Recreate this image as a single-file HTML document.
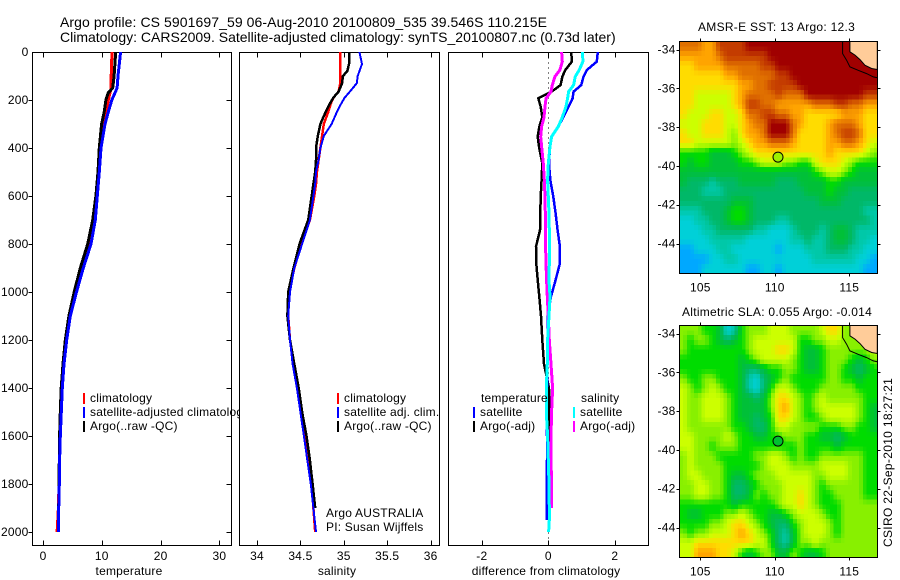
<!DOCTYPE html>
<html>
<head>
<meta charset="utf-8">
<title>Argo profile</title>
<style>
html,body{margin:0;padding:0;background:#fff;width:900px;height:580px;overflow:hidden}
svg{display:block}
text{font-family:"Liberation Sans",sans-serif;font-size:12px;fill:#000;letter-spacing:0.2px}
.title{font-size:14px;letter-spacing:0}
</style>
</head>
<body>
<svg id="chart" width="900" height="580" viewBox="0 0 900 580" xmlns="http://www.w3.org/2000/svg">
<defs>
<clipPath id="clip-sst"><rect x="679.5" y="41.5" width="198" height="232"/></clipPath>
<clipPath id="clip-sla"><rect x="679.5" y="325.5" width="198" height="232"/></clipPath>
</defs>
<text class="title" x="60" y="27" textLength="487">Argo profile: CS 5901697_59 06-Aug-2010 20100809_535 39.546S 110.215E</text>
<text class="title" x="60" y="42">Climatology: CARS2009. Satellite-adjusted climatology: synTS_20100807.nc (0.73d later)</text>
<text x="698" y="31" textLength="157">AMSR-E SST: 13 Argo: 12.3</text>
<text x="682" y="316" textLength="190">Altimetric SLA: 0.055 Argo: -0.014</text>
<text transform="translate(892,547) rotate(-90)" textLength="169">CSIRO 22-Sep-2010 18:27:21</text>
</svg>
<script>
// ---- profile data ----
const tempDepths = [0,100,150,170,200,250,300,400,500,600,700,800,900,1000,1100,1200,1300,1400,1500,1600,1700,1800,1900,2000];
const tempClim = [11.73,11.6,11.6,11.4,11.1,10.7,10.4,9.8,9.47,9.2,8.73,7.88,6.75,5.6,4.53,3.9,3.45,3.15,2.98,2.85,2.78,2.72,2.62,2.4];
const tempSat = [13.2,12.75,12.6,12.25,11.7,11.1,10.55,9.87,9.58,9.24,8.9,8.16,6.86,5.7,4.65,4.03,3.57,3.28,3.11,2.95,2.83,2.78,2.67,2.6];
const tempArgo = [12.36,12.1,11.85,11.1,10.7,10.4,9.97,9.58,9.35,9.0,8.45,7.6,6.35,5.3,4.4,3.8,3.4,3.1,2.95,2.83,2.78,2.72,2.67];
const salDepths = [0,50,80,100,130,165,190,215,250,300,350,400,450,500,550,600,700,800,900,1000,1100,1200,1300,1400,1500,1600,1700,1800,1900,2000];
const salClim = [34.96,34.96,34.96,34.96,34.96,34.94,34.88,34.85,34.82,34.77,34.75,34.73,34.71,34.69,34.68,34.66,34.61,34.51,34.43,34.37,34.36,34.38,34.43,34.47,34.51,34.55,34.60,34.63,34.65,34.67];
const salSat = [35.18,35.21,35.18,35.16,35.15,35.07,35.01,34.97,34.92,34.86,34.77,34.73,34.71,34.68,34.67,34.65,34.61,34.52,34.43,34.38,34.36,34.38,34.41,34.46,34.50,34.54,34.58,34.62,34.65,34.68];
const salArgo = [35.06,35.06,35.04,34.99,34.98,34.94,34.88,34.84,34.79,34.73,34.70,34.68,34.68,34.67,34.65,34.63,34.59,34.49,34.42,34.36,34.35,34.38,34.43,34.48,34.52,34.57,34.61,34.64,34.67];
const diffDepths = [0,40,75,103,138,165,193,228,272,311,353,394,464,533,603,672,742,811,881,950,1019,1100,1200,1300,1400,1500,1600,1700,1800,1900,1950,2000];
const diffTempSat = [1.49,1.46,1.16,1.06,.99,.76,.73,.61,.45,.30,.10,.05,.02,.06,.15,.22,.28,.35,.35,.22,.08,-.02,-.02,-.03,-.04,-.05,-.04,-.04,-.05,-.05,-.05];
const diffTempArgo = [.69,.71,.51,.42,.37,.10,-.30,-.23,-.18,-.27,-.32,-.28,-.18,-.20,-.23,-.24,-.25,-.37,-.36,-.32,-.27,-.22,-.18,-.13,.02,.03,.03,.03];
const diffSalSat = [1.03,1.04,.93,.81,.76,.61,.58,.53,.42,.30,.10,.05,0,-.02,0,.02,.03,.03,.03,.02,.05,.02,-.02,-.03,-.06,-.06,-.02,0,.02,.03,.03,.01];
const diffSalArgo = [.40,.42,.35,.20,.12,.08,-.07,-.10,-.13,-.20,-.23,-.20,-.15,-.12,-.10,-.09,-.08,-.08,-.07,-.05,-.03,0,.03,.08,.13,.10,.08,.08,.10,.10];

// ---- tick labels ----
const depthTicks = [0,200,400,600,800,1000,1200,1400,1600,1800,2000];
const tempTicks = [0,10,20,30];
const salTicks = [34,34.5,35,35.5,36];
const diffTicks = [-2,0,2];
const lonTicks = [105,110,115];
const latTicks = [-34,-36,-38,-40,-42,-44];

// ---- map data: colour-level per half-degree cell, north to south ----
const sstRows = [
[10,10,10,9,9,11,11,11,11,12,12,12,12,12,12,12,12,12,12,12,12,12,12,12,12,12,12],
[9,9,9,9,9,10,11,11,11,11,11,11,12,12,12,12,12,12,12,12,12,12,12,12,12,12,12],
[8,8,9,9,9,9,10,10,10,10,10,11,11,12,12,12,12,12,12,12,12,12,12,12,12,12,12],
[8,8,8,8,8,8,9,9,10,10,10,10,10,11,11,12,12,12,12,12,12,12,12,12,12,12,12],
[8,8,8,8,8,8,8,8,9,9,10,10,11,11,11,11,12,12,12,12,12,12,12,12,12,12,12],
[8,8,7,7,7,7,7,8,9,10,10,10,10,11,10,10,10,12,12,12,12,12,12,12,12,11,11],
[8,8,7,7,7,7,7,8,9,11,11,10,10,9,9,9,9,9,10,10,10,11,11,10,10,9,9],
[8,7,7,7,8,8,7,7,8,10,10,11,11,10,10,9,9,8,8,8,8,8,9,9,9,8,8],
[7,7,7,8,8,8,7,7,8,9,10,10,12,12,12,10,9,8,8,8,9,10,10,10,9,8,8],
[8,7,7,8,8,8,7,6,8,9,9,10,12,12,12,10,8,8,8,8,9,10,11,11,10,8,8],
[8,8,7,7,7,7,7,6,7,8,9,9,10,10,10,9,8,8,8,8,9,9,10,10,9,8,7],
[5,5,5,5,4,4,4,5,6,7,8,8,8,8,8,8,8,8,8,8,9,8,8,8,8,7,6],
[5,4,5,5,4,4,4,4,5,5,6,7,7,7,6,6,5,5,7,8,8,8,7,6,5,5,5],
[4,4,4,4,4,4,4,4,4,4,4,4,4,4,4,4,4,4,5,6,7,7,6,5,4,4,4],
[4,3,3,3,2,3,3,3,4,4,4,4,4,3,3,3,4,4,4,4,5,5,4,4,4,4,4],
[3,3,3,2,2,2,3,3,3,3,3,3,3,3,3,3,3,4,4,4,5,4,4,3,3,3,3],
[3,3,3,3,3,3,3,4,4,4,3,3,3,3,3,3,3,3,3,4,4,4,3,3,3,3,3],
[2,2,2,3,3,3,4,5,5,4,3,3,3,3,3,3,3,3,3,3,3,3,3,3,3,2,2],
[1,1,2,2,3,3,4,5,5,4,3,3,3,2,2,3,3,3,3,3,3,3,3,3,3,3,2],
[1,1,1,2,2,3,3,3,3,3,2,2,1,1,1,2,3,3,3,2,3,4,4,3,2,2,2],
[1,1,1,1,2,2,2,2,2,1,1,1,1,1,1,2,2,3,2,2,3,4,4,3,2,2,1],
[0,0,1,1,1,2,2,1,1,1,1,1,1,0,1,1,1,2,2,2,3,3,3,2,2,1,1],
[0,0,0,0,1,1,2,2,1,1,1,1,1,1,1,1,1,1,2,2,2,2,2,2,1,1,0],
[0,0,0,1,1,1,1,1,1,0,0,1,1,0,1,1,1,1,1,1,1,1,1,1,1,0,0]
];
const slaRows = [
[6,6,6,5,5,4,1,2,5,6,6,6,7,7,7,6,6,6,6,7,8,8,6,6,6,6,6],
[6,5,6,6,5,4,3,4,5,6,7,7,7,7,7,7,5,5,6,6,7,7,6,6,6,6,6],
[6,5,5,5,5,5,5,5,5,6,7,7,7,8,8,7,5,4,4,5,6,6,6,6,6,6,7],
[5,5,5,5,5,5,5,5,4,5,6,7,7,7,7,6,5,4,4,5,6,6,6,5,4,5,6],
[5,5,5,5,5,5,5,5,4,3,3,4,5,5,6,6,5,4,4,5,6,6,5,4,3,4,5],
[6,5,5,6,6,5,5,5,4,2,1,3,4,5,6,5,5,5,5,5,6,6,5,5,4,5,5],
[7,6,5,6,7,6,5,5,4,2,1,3,5,7,7,6,5,5,5,6,6,6,6,6,5,5,5],
[7,6,6,7,7,7,6,5,4,4,3,4,6,8,8,7,6,5,6,7,6,6,6,6,6,5,5],
[7,6,6,7,7,7,6,5,4,4,4,4,6,8,9,7,6,5,6,7,7,7,7,7,6,5,4],
[7,6,6,7,7,7,6,5,4,4,3,4,5,8,8,7,6,5,5,6,7,7,7,7,6,5,4],
[7,6,6,6,6,6,6,5,5,4,3,3,5,7,7,6,6,6,6,5,5,5,6,6,5,5,4],
[7,7,6,6,6,6,7,6,5,5,4,4,5,5,6,6,6,5,5,4,4,3,4,5,5,5,5],
[7,7,6,6,5,6,6,6,5,5,5,5,5,5,5,5,6,5,5,5,5,4,5,5,5,5,5],
[6,7,6,6,6,5,5,5,5,5,6,6,7,7,6,5,6,5,5,6,6,6,6,6,6,5,5],
[6,7,6,6,6,6,5,5,5,5,5,6,7,7,7,6,6,6,6,7,7,7,7,6,6,5,5],
[6,7,7,6,6,6,5,4,4,5,6,6,6,7,7,7,7,7,6,6,7,7,7,6,6,5,5],
[6,6,7,7,6,6,5,3,3,4,5,6,6,6,7,7,7,7,6,5,6,6,6,6,6,5,5],
[6,6,7,7,6,6,5,3,3,4,6,5,6,6,7,7,8,7,6,5,5,6,6,6,6,5,5],
[5,5,5,5,5,5,5,4,5,5,5,5,5,6,7,7,8,7,6,5,5,5,6,6,6,6,6],
[5,4,4,5,5,5,6,6,7,6,5,5,4,4,5,6,7,7,7,6,5,5,6,6,6,6,6],
[5,5,5,5,6,6,7,8,8,7,6,5,4,3,3,5,6,7,7,7,6,5,6,6,6,6,6],
[6,5,6,6,7,7,7,8,9,8,7,6,5,3,2,4,6,7,7,7,6,5,6,6,6,6,6],
[7,7,8,8,8,8,8,8,8,8,7,7,5,3,2,4,6,6,7,6,6,6,6,6,6,6,6],
[7,7,9,9,9,8,8,7,5,4,5,6,6,4,4,6,5,4,4,5,6,6,6,6,6,6,6]
];
const levelColors = ['#00a8ff','#00d0d8','#00c8a8','#00b868','#00c038','#00dc00','#88f000','#ccff00','#ffdc00','#ffa400','#e07000','#c43c00','#a00000'];
const landLons = [115.04,115.04,115.38,115.72,116.05,116.5,116.88,116.88];
const landLats = [-33.59,-34.12,-34.29,-34.52,-34.81,-34.98,-35.03,-33.59];
const shelfLons = [114.55,114.55,114.82,115.04,115.6,116.16,116.61,116.88];
const shelfLats = [-33.59,-34.21,-34.55,-34.89,-35.07,-35.24,-35.41,-35.46];
const argoLon = 110.215;
const argoLat = -39.546;

const svg = document.getElementById('chart');
const NS = 'http://www.w3.org/2000/svg';
function mk(tag, attrs, parent) {
  const el = document.createElementNS(NS, tag);
  for (const k in attrs) el.setAttribute(k, attrs[k]);
  (parent || svg).appendChild(el);
  return el;
}

// ---- profile panel axes ----
const plotTop = 52.5, plotBottom = 545.5;
function depthY(d) { return 52 + d * 0.24; }
function tempX(v) { return 43 + v * 5.88; }
function salX(v) { return 257 + (v - 34) * 86.8; }
function diffX(v) { return 548.3 + v * 33.25; }

function panel(name, left, right, xFn, ticks, label, labelX, yTicks) {
  const g = mk('g', {});
  
  
  const bg = mk('rect', {x: left, y: plotTop, width: right - left, height: plotBottom - plotTop, fill: '#fff', stroke: 'none'}, g);
  
  
  const frame = mk('rect', {x: left, y: plotTop, width: right - left, height: plotBottom - plotTop, fill: 'none', stroke: '#000', 'stroke-width': 1, 'shape-rendering': 'crispEdges'}, g);
  
  
  ticks.forEach(function (t) {
    const x = Math.round(xFn(t)) + 0.5;
    const top = mk('line', {x1: x, x2: x, y1: plotTop, y2: plotTop + 5, stroke: '#000', 'shape-rendering': 'crispEdges'}, g);
    
    
    const bot = mk('line', {x1: x, x2: x, y1: plotBottom, y2: plotBottom - 5, stroke: '#000', 'shape-rendering': 'crispEdges'}, g);
    
    
    const tx = mk('text', {x: xFn(t), y: 560, 'text-anchor': 'middle'}, g);
    
    
    tx.textContent = String(t);
  });
  if (yTicks) {
    yTicks.forEach(function (d) {
      const y = Math.round(depthY(d)) + 0.5;
      if (d > 0) {
        const l = mk('line', {x1: left - 4, x2: left, y1: y, y2: y, stroke: '#000', 'shape-rendering': 'crispEdges'}, g);
        
        
        const r = mk('line', {x1: right - 5, x2: right, y1: y, y2: y, stroke: '#000', 'shape-rendering': 'crispEdges'}, g);
        
        
      }
      const tx = mk('text', {x: left - 4, y: depthY(d) + 4, 'text-anchor': 'end'}, g);
      
      
      tx.textContent = String(d);
    });
  }
  const xl = mk('text', {x: labelX, y: 575, 'text-anchor': 'middle'}, g);
  
  
  xl.textContent = label;
  return g;
}

function series(g, name, depths, values, xFn, color, width) {
  const pts = values.map(function (v, i) { return xFn(v).toFixed(1) + ',' + depthY(depths[i]).toFixed(1); }).join(' ');
  const p = mk('polyline', {points: pts, fill: 'none', stroke: color, 'stroke-width': width, 'shape-rendering': 'crispEdges'}, g);
  
  
}

function legendEntry(g, name, x, y, color, label) {
  if (color) {
    const b = mk('rect', {x: x, y: y - 9, width: 2, height: 11, fill: color, 'shape-rendering': 'crispEdges'}, g);
    
    
  }
  const t = mk('text', {x: x + 7, y: y}, g);
  
  
  t.textContent = label;
}

// temperature
const tempPanel = panel('temperature', 32.5, 231.5, tempX, tempTicks, 'temperature', 129, depthTicks);
series(tempPanel, 'temperature-climatology-line', tempDepths, tempClim, tempX, '#ff0000', 3);
series(tempPanel, 'temperature-argo-line', tempDepths, tempArgo, tempX, '#000000', 3);
series(tempPanel, 'temperature-satellite-line', tempDepths, tempSat, tempX, '#0000ff', 3);
legendEntry(tempPanel, 'legend-climatology', 83, 402, '#ff0000', 'climatology');
legendEntry(tempPanel, 'legend-satellite-adjusted', 83, 416, '#0000ff', 'satellite-adjusted climatology');
legendEntry(tempPanel, 'legend-argo', 83, 430, '#000000', 'Argo(..raw -QC)');

// salinity
const salPanel = panel('salinity', 239.5, 439.5, salX, salTicks, 'salinity', 337, null);
series(salPanel, 'salinity-climatology-line', salDepths, salClim, salX, '#ff0000', 2.5);
series(salPanel, 'salinity-argo-line', salDepths, salArgo, salX, '#000000', 2.5);
series(salPanel, 'salinity-satellite-line', salDepths, salSat, salX, '#0000ff', 2);
legendEntry(salPanel, 'legend-sal-climatology', 337, 402, '#ff0000', 'climatology');
legendEntry(salPanel, 'legend-sal-satellite', 337, 416, '#0000ff', 'satellite adj. clim.');
legendEntry(salPanel, 'legend-sal-argo', 337, 430, '#000000', 'Argo(..raw -QC)');
const credit1 = mk('text', {x: 326, y: 517}, salPanel);


credit1.textContent = 'Argo AUSTRALIA';
const credit2 = mk('text', {x: 326, y: 531}, salPanel);


credit2.textContent = 'PI: Susan Wijffels';

// differences
const diffPanel = panel('difference', 448.5, 648.5, diffX, diffTicks, 'difference from climatology', 546, null);
const zeroLine = mk('line', {x1: 548.5, x2: 548.5, y1: plotTop, y2: plotBottom, stroke: '#000', 'stroke-width': 1, 'stroke-dasharray': '1 4', 'shape-rendering': 'crispEdges'}, diffPanel);


series(diffPanel, 'difference-temp-argo-line', diffDepths, diffTempArgo, diffX, '#000000', 2.5);
series(diffPanel, 'difference-temp-satellite-line', diffDepths, diffTempSat, diffX, '#0000ff', 2.5);
series(diffPanel, 'difference-sal-argo-line', diffDepths, diffSalArgo, diffX, '#ff00ff', 3);
series(diffPanel, 'difference-sal-satellite-line', diffDepths, diffSalSat, diffX, '#00ffff', 3);
legendEntry(diffPanel, 'legend-diff-temperature', 474, 402, null, 'temperature');
legendEntry(diffPanel, 'legend-diff-temp-satellite', 473, 416, '#0000ff', 'satellite');
legendEntry(diffPanel, 'legend-diff-temp-argo', 473, 430, '#000000', 'Argo(-adj)');
legendEntry(diffPanel, 'legend-diff-salinity', 574, 402, null, 'salinity');
legendEntry(diffPanel, 'legend-diff-sal-satellite', 573, 416, '#00ffff', 'satellite');
legendEntry(diffPanel, 'legend-diff-sal-argo', 573, 430, '#ff00ff', 'Argo(-adj)');

// ---- maps ----
function hexRgb(h) { return [parseInt(h.slice(1,3),16), parseInt(h.slice(3,5),16), parseInt(h.slice(5,7),16)]; }
const levelRgb = levelColors.map(hexRgb);
function levelColor(v) {
  const lo = Math.max(0, Math.min(levelRgb.length - 2, Math.floor(v)));
  const f = Math.max(0, Math.min(1, v - lo));
  const a = levelRgb[lo], b = levelRgb[lo + 1];
  return 'rgb(' + Math.round(a[0] + (b[0]-a[0])*f) + ',' + Math.round(a[1] + (b[1]-a[1])*f) + ',' + Math.round(a[2] + (b[2]-a[2])*f) + ')';
}
// display smoothing: each half-degree value is shown on a quarter-degree raster
function sampleLevel(rows, u, v) {
  const nR = rows.length, nC = rows[0].length;
  const cu = Math.max(0, Math.min(nC - 1, u)), cv = Math.max(0, Math.min(nR - 1, v));
  const c0 = Math.floor(cu), r0 = Math.floor(cv);
  const c1 = Math.min(nC - 1, c0 + 1), r1 = Math.min(nR - 1, r0 + 1);
  const fu = cu - c0, fv = cv - r0;
  return (rows[r0][c0]*(1-fu) + rows[r0][c1]*fu)*(1-fv) + (rows[r1][c0]*(1-fu) + rows[r1][c1]*fu)*fv;
}
function drawMap(name, rows, top, clipId, markerColor) {
  const left = 679.5, w = 198, h = 232;
  const lonX = function (lon) { return 700.3 + (lon - 105) * 14.9; };
  const latY = function (lat) { return top + 8 + (-34 - lat) * 19.4; };
  const g = mk('g', {});
  
  
  const clip = mk('g', {'clip-path': 'url(#' + clipId + ')'}, g);
  const cells = mk('g', {'shape-rendering': 'crispEdges'}, clip);
  
  
  const ny = rows.length * 2, nx = rows[0].length * 2;
  const cw = w / nx, ch = h / ny;
  for (let j = 0; j < ny; j++) {
    for (let i = 0; i < nx; i++) {
      const lvl = sampleLevel(rows, (i + 0.5) / 2 - 0.5, (j + 0.5) / 2 - 0.5);
      const cell = mk('rect', {x: (left + i * cw).toFixed(2), y: (top + j * ch).toFixed(2), width: (cw + 0.5).toFixed(2), height: (ch + 0.5).toFixed(2), fill: levelColor(lvl)}, cells);
      
      
    }
  }
  const land = mk('polygon', {points: landLons.map(function (lo, i) { return lonX(lo).toFixed(1) + ',' + latY(landLats[i]).toFixed(1); }).join(' '), fill: '#ffcc99', stroke: '#000', 'stroke-width': 1}, clip);
  
  
  const shelf = mk('polyline', {points: shelfLons.map(function (lo, i) { return lonX(lo).toFixed(1) + ',' + latY(shelfLats[i]).toFixed(1); }).join(' '), fill: 'none', stroke: '#000', 'stroke-width': 1}, clip);
  
  
  const frame = mk('rect', {x: left, y: top, width: w, height: h, fill: 'none', stroke: '#000', 'shape-rendering': 'crispEdges'}, g);
  
  
  lonTicks.forEach(function (lo) {
    const x = Math.round(lonX(lo)) + 0.5;
    const t1 = mk('line', {x1: x, x2: x, y1: top - 3, y2: top, stroke: '#000', 'shape-rendering': 'crispEdges'}, g);
    
    
    const t2 = mk('line', {x1: x, x2: x, y1: top + h, y2: top + h + 3, stroke: '#000', 'shape-rendering': 'crispEdges'}, g);
    
    
    const tx = mk('text', {x: lonX(lo), y: top + h + 18, 'text-anchor': 'middle'}, g);
    
    
    tx.textContent = String(lo);
  });
  latTicks.forEach(function (la) {
    const y = Math.round(latY(la)) + 0.5;
    const t1 = mk('line', {x1: left - 3, x2: left, y1: y, y2: y, stroke: '#000', 'shape-rendering': 'crispEdges'}, g);
    
    
    const t2 = mk('line', {x1: left + w, x2: left + w + 3, y1: y, y2: y, stroke: '#000', 'shape-rendering': 'crispEdges'}, g);
    
    
    const tx = mk('text', {x: left - 4, y: latY(la) + 4, 'text-anchor': 'end'}, g);
    
    
    tx.textContent = String(la);
  });
  const marker = mk('circle', {cx: lonX(argoLon), cy: latY(argoLat), r: 5, fill: markerColor, stroke: '#000', 'stroke-width': 1}, g);
  
  
}
drawMap('sst', sstRows, 41.5, 'clip-sst', '#9cf000');
drawMap('sla', slaRows, 325.5, 'clip-sla', '#00c030');
</script>
</body>
</html>
